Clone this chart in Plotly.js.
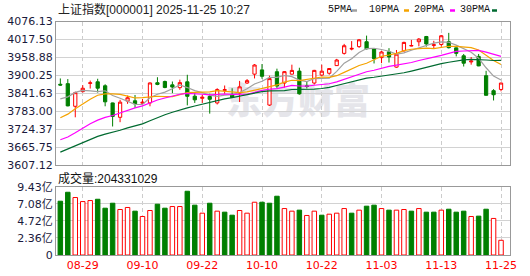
<!DOCTYPE html>
<html>
<head>
<meta charset="utf-8">
<script src="https://cdn.plot.ly/plotly-3.0.1.min.js"></script>
<style>
  html, body { margin:0; padding:0; background:#fff; width:530px; height:276px; overflow:hidden; }
  #wm { position:absolute; left:226px; top:72px; font-family:"Noto Sans CJK SC"; font-weight:900; font-size:36px; color:#e5e5ea; z-index:0; letter-spacing:0px; white-space:nowrap; }
  #chart { position:absolute; left:0; top:0; width:530px; height:276px; z-index:1; }
</style>
</head>
<body>
<div id="wm">东方财富</div>
<div id="chart"></div>
<script>
const dates = ['08-26','08-27','08-28','08-29','09-01','09-02','09-03','09-04','09-05','09-08','09-09','09-10','09-11','09-12','09-15','09-16','09-17','09-18','09-19','09-22','09-23','09-24','09-25','09-26','09-29','09-30','10-09','10-10','10-13','10-14','10-15','10-16','10-17','10-20','10-21','10-22','10-23','10-24','10-27','10-28','10-29','10-30','10-31','11-03','11-04','11-05','11-06','11-07','11-10','11-11','11-12','11-13','11-14','11-17','11-18','11-19','11-20','11-21','11-24','11-25'];

const openP  = [3871,3873,3799,3847,3874,3879,3866,3810,3763,3816,3817,3809,3810,3876,3880,3869,3860,3879,3832,3825,3831,3810,3851,3838,3842,3875,3904,3918,3803,3912,3875,3904,3914,3866,3875,3901,3907,3932,3972,3986,3994,4010,3987,3958,3977,3927,3980,3996,4010,4027,3998,4001,4010,3990,3964,3944,3962,3899,3850,3854];
const highP  = [3890,3888,3847,3868,3883,3889,3871,3811,3820,3834,3836,3823,3877,3894,3883,3880,3886,3902,3842,3836,3840,3858,3867,3858,3882,3888,3937,3937,3899,3922,3914,3935,3925,3879,3918,3935,3924,3954,4003,4012,4019,4030,3988,3980,3989,3983,4010,4016,4022,4029,4013,4032,4039,3991,3970,3960,3970,3915,3855,3876];
const lowP   = [3866,3799,3763,3844,3857,3844,3799,3733,3747,3807,3794,3802,3799,3868,3858,3842,3853,3802,3810,3810,3775,3805,3840,3827,3813,3872,3890,3889,3800,3858,3860,3903,3837,3857,3870,3897,3902,3931,3968,3982,3990,3985,3939,3940,3942,3925,3978,3995,3995,3994,3989,3994,3988,3962,3929,3935,3930,3834,3818,3848];
const closeP = [3868.38,3800.35,3843.60,3857.93,3875.53,3858.13,3813.56,3765.88,3812.51,3826.84,3807.29,3812.22,3875.31,3870.60,3860.50,3861.87,3876.34,3831.66,3820.09,3828.58,3821.83,3853.64,3853.30,3828.11,3862.53,3882.78,3933.97,3897.03,3889.50,3865.23,3912.21,3916.23,3839.76,3863.89,3916.33,3913.76,3922.41,3950.31,3996.94,3988.22,4016.33,3986.90,3954.79,3976.52,3960.19,3969.25,4007.76,3997.56,4018.60,4002.76,4000.14,4029.50,3990.49,3972.03,3939.81,3946.74,3931.05,3834.89,3836.77,3875.00];

const ma5  = [3823.0,3829.8,3844.3,3850.8,3849.2,3847.1,3849.8,3834.2,3825.1,3815.4,3805.2,3804.9,3826.8,3838.5,3845.2,3856.1,3868.9,3860.2,3850.1,3843.7,3835.7,3831.2,3835.5,3837.1,3843.9,3856.1,3872.1,3880.9,3893.2,3893.7,3899.6,3896.0,3884.6,3879.5,3889.7,3890.0,3891.2,3913.3,3940.0,3954.3,3974.8,3987.7,3988.6,3984.6,3978.9,3969.5,3973.7,3982.3,3990.7,3999.2,4005.4,4009.7,4008.3,3999.0,3986.4,3975.7,3956.0,3924.9,3897.9,3884.9];
const ma10 = [3761.7,3773.4,3791.1,3807.2,3822.0,3835.1,3839.8,3839.3,3837.9,3832.3,3826.2,3827.3,3830.5,3831.8,3830.3,3830.7,3836.9,3843.5,3844.3,3844.4,3845.9,3850.0,3847.8,3843.6,3843.8,3845.9,3851.6,3858.2,3865.1,3868.8,3877.8,3884.1,3882.7,3886.3,3891.7,3894.8,3893.6,3899.0,3909.7,3922.0,3932.4,3939.5,3951.0,3962.3,3966.6,3972.2,3980.7,3985.4,3987.6,3989.1,3987.4,3991.7,3995.3,3994.8,3992.8,3990.5,3982.9,3966.6,3948.4,3935.6];
const ma20 = [3689.5,3698.7,3712.2,3727.1,3741.7,3753.7,3762.7,3769.0,3777.9,3786.9,3793.9,3800.4,3810.8,3819.5,3826.1,3832.9,3838.4,3841.4,3841.1,3838.4,3836.0,3838.7,3839.2,3837.7,3837.0,3838.3,3844.3,3850.9,3854.7,3856.6,3861.9,3867.1,3865.3,3865.0,3867.7,3870.3,3872.6,3878.6,3887.4,3895.4,3905.1,3911.8,3916.9,3924.3,3929.2,3933.5,3937.2,3942.2,3948.7,3955.5,3959.9,3965.6,3973.1,3978.5,3979.7,3981.4,3981.8,3976.0,3968.0,3962.4];
const ma30 = [3649.2,3659.1,3670.0,3680.7,3691.3,3700.5,3708.2,3713.5,3720.8,3728.4,3735.0,3741.6,3751.6,3762.0,3771.2,3779.4,3787.5,3793.9,3800.0,3806.1,3811.3,3816.9,3823.2,3827.5,3832.0,3837.2,3842.8,3847.0,3849.1,3848.5,3850.0,3853.8,3853.7,3853.9,3855.3,3857.1,3860.7,3866.9,3873.0,3878.4,3885.4,3891.2,3893.9,3897.4,3900.7,3904.3,3908.7,3914.2,3920.8,3926.6,3932.6,3938.4,3943.0,3947.8,3950.4,3952.5,3952.4,3950.3,3948.6,3948.9];

// volume in 亿 (1e8 shares)
const volume = [7.46,8.70,7.97,7.41,7.55,7.73,6.49,7.18,6.31,6.59,6.08,5.34,6.17,7.04,6.49,6.72,6.72,8.84,6.91,5.80,7.18,6.08,5.94,5.52,6.17,5.80,7.32,7.32,7.18,8.15,6.44,6.08,6.22,5.48,6.08,5.52,5.66,5.80,6.44,5.80,6.22,6.77,6.91,6.44,6.22,6.22,6.31,6.08,6.44,5.94,5.94,6.22,6.35,5.94,6.08,5.34,5.39,6.35,5.07,2.04];
// 1 = up day (red hollow bar), 0 = down day (green bar)
const volUp = [0,0,1,1,1,0,0,0,1,1,0,1,1,0,0,1,1,0,0,1,0,1,0,0,1,1,1,0,0,0,1,1,0,1,1,0,1,1,1,0,1,0,0,1,0,1,1,0,1,0,0,1,0,0,0,1,0,0,1,1];

const priceTicks = [3607.12,3665.75,3724.37,3783.00,3841.63,3900.25,3958.88,4017.50,4076.13];
const priceTickText = ['3607.12','3665.75','3724.37','3783.00','3841.63','3900.25','3958.88','4017.50','4076.13'];
const volTicks = [0,2.36,4.72,7.08,9.43];
const volTickText = ['0','2.36亿','4.72亿','7.08亿','9.43亿'];
const dateTicks = ['08-29','09-10','09-22','10-10','10-22','11-03','11-13','11-25'];

const titleText = '上证指数[000001] 2025-11-25 10:27';
const volTitle = '成交量:204331029';
const maNames = ['5PMA','10PMA','20PMA','30PMA'];
const maColors = ['#a0a0a0','#f5a300','#ff00ff','#006a30'];

const RED = '#ff0000', GREEN = '#007f00';

const traces = [];
traces.push({
  type:'candlestick', x:dates, open:openP, high:highP, low:lowP, close:closeP,
  xaxis:'x', yaxis:'y', whiskerwidth:0,
  increasing:{line:{color:RED, width:1}, fillcolor:'#ffffff'},
  decreasing:{line:{color:GREEN, width:1}, fillcolor:GREEN},
  showlegend:false, hoverinfo:'skip'
});
[ma5, ma10, ma20, ma30].forEach((m, i) => {
  traces.push({type:'scatter', mode:'lines', x:dates, y:m, xaxis:'x', yaxis:'y',
    line:{color:maColors[i], width:1.2}, showlegend:false, hoverinfo:'skip'});
});
traces.push({
  type:'bar', x:dates, y:volume, xaxis:'x2', yaxis:'y2', width:0.6,
  marker:{color:volUp.map(u => u ? '#ffffff' : GREEN),
          line:{color:volUp.map(u => u ? RED : GREEN), width:1}},
  showlegend:false, hoverinfo:'skip'
});

const W = 530, H = 276, ML = 56, MR = 20, MT = 21, MB = 21;
const PW = W - ML - MR, PH = H - MT - MB;
const px = v => (v - ML) / PW;
const py = v => (H - MB - v) / PH;

const axisFont = {family:'DejaVu Sans', size:11, color:'#1a1a3c'};
const xr = [-0.58, 60.2];

const annotations = [
  {text:titleText, xref:'paper', yref:'paper', x:px(56), y:py(10), xanchor:'left', yanchor:'middle', showarrow:false,
   font:{family:'Liberation Sans, Noto Sans CJK SC', size:12, color:'#222'}},
  {text:volTitle, xref:'paper', yref:'paper', x:px(56), y:py(178), xanchor:'left', yanchor:'middle', showarrow:false,
   font:{family:'Liberation Sans, Noto Sans CJK SC', size:12, color:'#111'}}
];
const legX = [326, 367, 412, 458];
const dashX = [352, 404, 450, 492];
const shapes = [];
maNames.forEach((n, i) => {
  annotations.push({text:n, xref:'paper', yref:'paper', x:px(legX[i]), y:py(10), xanchor:'left', yanchor:'middle',
    showarrow:false, font:{family:'Liberation Mono', size:10, color:'#111'}});
  shapes.push({type:'line', xref:'paper', yref:'paper', x0:px(dashX[i]), x1:px(dashX[i]+5), y0:py(10.5), y1:py(10.5),
    line:{color:maColors[i], width:2.5}});
});

const layout = {
  width:W, height:H, margin:{l:ML, r:MR, t:MT, b:MB, pad:0},
  paper_bgcolor:'rgba(0,0,0,0)', plot_bgcolor:'rgba(0,0,0,0)',
  showlegend:false, boxgap:0.38, bargap:0.3, hovermode:false,
  xaxis:{domain:[0,1], anchor:'y', type:'category', range:xr, tickvals:dateTicks, showticklabels:false,
    showgrid:true, gridcolor:'#cccccc', griddash:'4px,3px', gridwidth:1, ticks:'',
    showline:true, mirror:true, linecolor:'#999999', linewidth:1, zeroline:false,
    rangeslider:{visible:false}, fixedrange:true},
  yaxis:{domain:[py(165), py(21.5)], anchor:'x', range:[3607.12, 4076.13], tickvals:priceTicks, ticktext:priceTickText,
    showgrid:true, gridcolor:'#d2d2d2', gridwidth:1, ticks:'', tickfont:axisFont,
    showline:true, mirror:true, linecolor:'#999999', linewidth:1, zeroline:false, fixedrange:true},
  xaxis2:{domain:[0,1], anchor:'y2', type:'category', range:xr, tickvals:dateTicks, ticktext:dateTicks,
    showgrid:true, gridcolor:'#cccccc', griddash:'4px,3px', gridwidth:1, ticks:'',
    tickfont:{family:'DejaVu Sans', size:11, color:RED},
    showline:true, mirror:true, linecolor:'#999999', linewidth:1, zeroline:false, fixedrange:true},
  yaxis2:{domain:[0, py(187)], anchor:'x2', range:[0, 9.43], tickvals:volTicks, ticktext:volTickText,
    showgrid:true, gridcolor:'#d2d2d2', gridwidth:1, ticks:'',
    tickfont:{family:'DejaVu Sans, Noto Sans CJK SC', size:11, color:'#1a1a3c'},
    showline:true, mirror:true, linecolor:'#999999', linewidth:1, zeroline:false, fixedrange:true},
  annotations:annotations, shapes:shapes
};

Plotly.newPlot('chart', traces, layout, {displayModeBar:false, staticPlot:true});
</script>
</body>
</html>
